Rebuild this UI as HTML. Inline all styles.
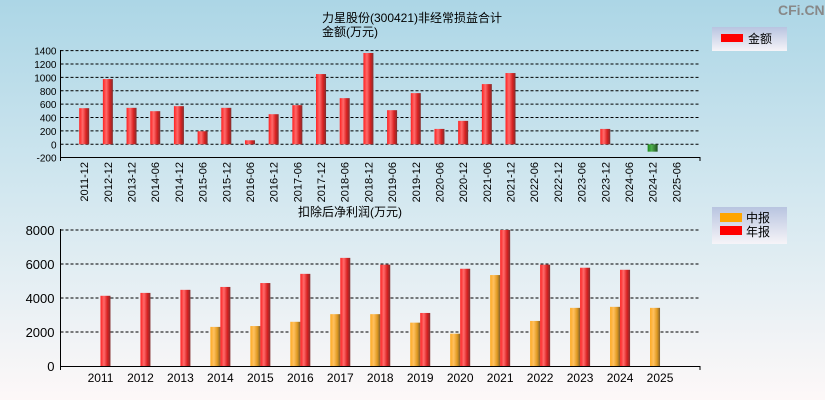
<!DOCTYPE html>
<html><head><meta charset="utf-8"><style>
html,body{margin:0;padding:0}
body{width:825px;height:400px;overflow:hidden;background:linear-gradient(#acd6e6 0%,#d4e8f0 50%,#fdf8f8 100%);font-family:"Liberation Sans","Noto Sans CJK SC",sans-serif}
svg{position:absolute;left:0;top:0}
</style></head><body>
<svg id="c" width="825" height="400">
<defs>
<linearGradient id="gr" x1="0" x2="1"><stop offset="0" stop-color="#ff2020"/><stop offset="0.35" stop-color="#ff6a6a"/><stop offset="0.7" stop-color="#d82020"/><stop offset="1" stop-color="#803030"/></linearGradient>
<linearGradient id="go" x1="0" x2="1"><stop offset="0" stop-color="#ffaa20"/><stop offset="0.35" stop-color="#ffc060"/><stop offset="0.7" stop-color="#e09a20"/><stop offset="1" stop-color="#806030"/></linearGradient>
<linearGradient id="gg" x1="0" x2="1"><stop offset="0" stop-color="#1a8a1a"/><stop offset="0.4" stop-color="#50b050"/><stop offset="1" stop-color="#205020"/></linearGradient>
<linearGradient id="lg" x1="0" y1="0" x2="0" y2="1"><stop offset="0" stop-color="#b8c4e0"/><stop offset="1" stop-color="#f6f4f8"/></linearGradient>
</defs>
<text x="778" y="15" font-size="14" font-weight="bold" fill="#888">CFi.CN</text>
<text x="412" y="22" font-size="12" text-anchor="middle">力星股份(300421)非经常损益合计</text>
<text x="322" y="36" font-size="12">金额(万元)</text>
<text x="350" y="216" font-size="12" text-anchor="middle">扣除后净利润(万元)</text>
<g><rect x="712" y="27" width="75" height="24" fill="url(#lg)"/><rect x="721" y="34" width="22" height="8" fill="#f00"/><text x="748" y="43" font-size="12">金额</text></g>
<g><rect x="712" y="207" width="75" height="37" fill="url(#lg)"/><rect x="720" y="213" width="22" height="9" fill="#ffa500"/><text x="746" y="222" font-size="12">中报</text><rect x="720" y="226" width="22" height="9" fill="#f00"/><text x="746" y="236" font-size="12">年报</text></g>
<g id="top"></g><g id="bot"></g>
</svg>
<script>
const topCats=["2011-12","2012-12","2013-12","2014-06","2014-12","2015-06","2015-12","2016-06","2016-12","2017-06","2017-12","2018-06","2018-12","2019-06","2019-12","2020-06","2020-12","2021-06","2021-12","2022-06","2022-12","2023-06","2023-12","2024-06","2024-12","2025-06"];
const topVals=[540,975,545,495,570,195,545,60,450,585,1050,690,1365,510,765,230,350,900,1065,0,0,0,230,0,-110,0];
const topTicks=[1400,1200,1000,800,600,400,200,0,-200];
const years=["2011","2012","2013","2014","2015","2016","2017","2018","2019","2020","2021","2022","2023","2024","2025"];
const annual=[4130,4300,4480,4650,4880,5420,6360,5960,3120,5720,8000,5960,5780,5660,null];
const interim=[null,null,null,2300,2350,2600,3050,3050,2550,1900,5350,2650,3420,3480,3420];
const botTicks=[8000,6000,4000,2000,0];
const NS="http://www.w3.org/2000/svg";
function mk(p,t,a){const e=document.createElementNS(NS,t);for(const k in a)e.setAttribute(k,a[k]);p.appendChild(e);return e;}
const L=60.5,R=700;
// top
const T=document.getElementById('top');
const ty=v=>144.3-v*0.0669;
const tstep=(R-L)/(topCats.length+1);
const tx=i=>L+(i+1)*tstep;
topTicks.forEach(v=>{
 if(v>-200){const g=mk(T,'line',{x1:L,x2:R,y1:ty(v),y2:ty(v),stroke:'#000','stroke-dasharray':'3,2','stroke-width':1});}
 const t=mk(T,'text',{x:L-4,y:ty(v)+4,'font-size':10,'text-anchor':'end'});t.textContent=v;
 
});
mk(T,'line',{x1:L,x2:L,y1:50,y2:161,stroke:'#000'});
mk(T,'line',{x1:L,x2:R,y1:157.5,y2:157.5,stroke:'#000'});
mk(T,'line',{x1:R,x2:R,y1:157,y2:161,stroke:'#000'});
topCats.forEach((c,i)=>{
 const v=topVals[i];const x=tx(i);
 if(v!==0){const y0=ty(0),y1=ty(v);
  const r=mk(T,'rect',{x:x-5,y:Math.min(y0,y1),width:10,height:Math.abs(y1-y0),fill:v<0?'url(#gg)':'url(#gr)'});
  }
 const t=mk(T,'text',{x:0,y:0,'font-size':11,'text-anchor':'end',transform:`translate(${x+4},162) rotate(-90)`});t.textContent=c;
 
});
// bottom
const B=document.getElementById('bot');
const by=v=>366-v*0.017;
const bstep=(R-L)/(years.length+1);
const bx=i=>L+(i+1)*bstep;
botTicks.forEach(v=>{
 if(v>0){const g=mk(B,'line',{x1:L,x2:R,y1:by(v),y2:by(v),stroke:'#000','stroke-dasharray':'3,2'});}
 const t=mk(B,'text',{x:L-6,y:by(v)+5,'font-size':13,'text-anchor':'end'});t.textContent=v;
 
});
mk(B,'line',{x1:L,x2:L,y1:229,y2:370,stroke:'#000'});
mk(B,'line',{x1:L,x2:R,y1:366.5,y2:366.5,stroke:'#000'});
mk(B,'line',{x1:R,x2:R,y1:366,y2:370,stroke:'#000'});
years.forEach((yr,i)=>{
 const x=bx(i);
 if(interim[i]!=null){const r=mk(B,'rect',{x:x-10,y:by(interim[i]),width:10,height:by(0)-by(interim[i]),fill:'url(#go)'});}
 if(annual[i]!=null){const r=mk(B,'rect',{x:x,y:by(annual[i]),width:10,height:by(0)-by(annual[i]),fill:'url(#gr)'});}
 const t=mk(B,'text',{x:x,y:382,'font-size':12,'text-anchor':'middle'});t.textContent=yr;
 
});
</script>
</body></html>
